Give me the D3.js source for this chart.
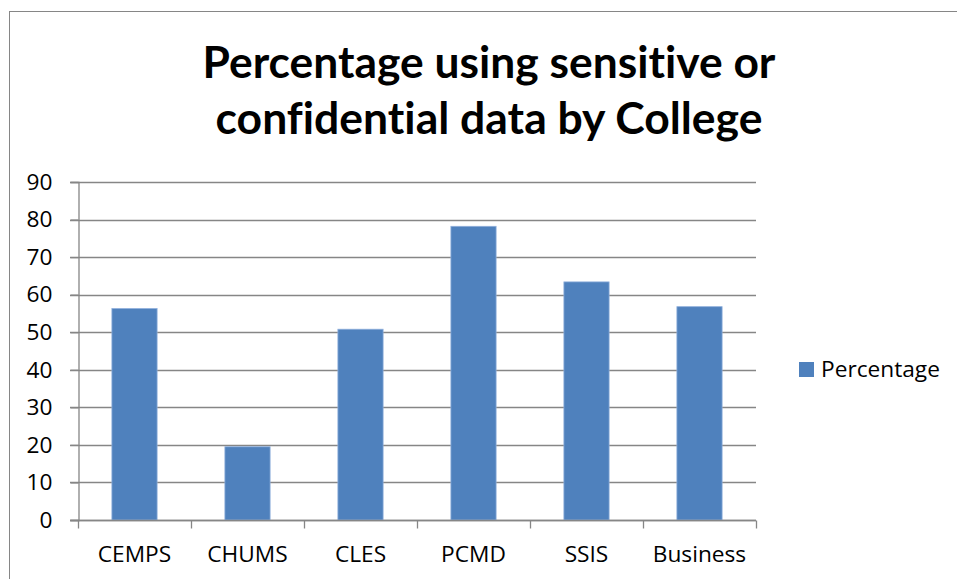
<!DOCTYPE html>
<html>
<head>
<meta charset="utf-8">
<script src="https://cdn.jsdelivr.net/npm/d3@7"></script>
<style>
  html, body { margin: 0; padding: 0; background: #fff; }
  svg { display: block; }
  text { font-family: "Open Sans", Lato, sans-serif; fill: #000; font-variant-ligatures: none; }
  .title { font-family: Lato, "Open Sans", sans-serif; }
</style>
</head>
<body>
<svg id="chart" width="957" height="579"></svg>
<script>
// Share of researchers working with sensitive or confidential data, by college
const colleges = ["CEMPS", "CHUMS", "CLES", "PCMD", "SSIS", "Business"];
const percentages = [56.3, 19.5, 50.8, 78.2, 63.4, 56.8];
const yTicks = [0, 10, 20, 30, 40, 50, 60, 70, 80, 90];
const titleLines = ["Percentage using sensitive or", "confidential data by College"];
const seriesName = "Percentage";

const W = 957, H = 579;
const margin = { top: 182, right: 201, bottom: 59, left: 78 };
const barColor = "#4F81BD";
const gridColor = "#868686";

const svg = d3.select("#chart");

// label size: fit the legend entry to its width, reuse it for the axes
const probe = svg.append("text").attr("font-size", 20).text(seriesName);
const labelSize = 20 * 119 / probe.node().getComputedTextLength();
probe.remove();

// chart frame
svg.append("rect")
  .attr("x", 9.5).attr("y", 11.5)
  .attr("width", W + 20).attr("height", H + 20)
  .attr("fill", "#fff").attr("stroke", gridColor).attr("stroke-width", 1);

const x = d3.scaleBand()
  .domain(colleges)
  .range([margin.left, W - margin.right])
  .paddingInner(0.6)
  .paddingOuter(0.3);

const y = d3.scaleLinear()
  .domain([0, 90])
  .range([H - margin.bottom, margin.top]);

// horizontal gridlines
svg.append("g")
  .selectAll("line")
  .data(yTicks)
  .join("line")
  .attr("x1", margin.left - 8)
  .attr("x2", W - margin.right)
  .attr("y1", d => Math.round(y(d)) + 0.5)
  .attr("y2", d => Math.round(y(d)) + 0.5)
  .attr("stroke", gridColor)
  .attr("stroke-width", 1.3);

// y axis
const yAxis = svg.append("g")
  .attr("transform", `translate(${margin.left + 0.5},0)`)
  .call(d3.axisLeft(y).tickValues(yTicks).tickSize(8).tickPadding(18).tickFormat(d3.format("d")));
yAxis.select(".domain").attr("stroke", gridColor).attr("stroke-width", 1.3);
yAxis.selectAll(".tick line").attr("stroke", gridColor).attr("stroke-width", 1.3);
yAxis.selectAll(".tick text")
  .attr("font-size", labelSize)
  .attr("font-family", "Open Sans")
  .attr("fill", "#000");

// x axis with boundary ticks between categories
const xBottom = Math.round(y(0)) + 0.5;
const step = x.step();
const boundaries = d3.range(colleges.length + 1).map(i => margin.left + i * step);
const xAxis = svg.append("g");
xAxis.selectAll("line.bt")
  .data(boundaries)
  .join("line")
  .attr("class", "bt")
  .attr("x1", d => Math.round(d) + 0.5).attr("x2", d => Math.round(d) + 0.5)
  .attr("y1", xBottom).attr("y2", xBottom + 8)
  .attr("stroke", gridColor).attr("stroke-width", 1.3);
xAxis.selectAll("text")
  .data(colleges)
  .join("text")
  .attr("x", d => x(d) + x.bandwidth() / 2)
  .attr("y", 562)
  .attr("text-anchor", "middle")
  .attr("font-size", labelSize)
  .text(d => d);

// bars
svg.append("g")
  .selectAll("rect")
  .data(colleges.map((c, i) => ({ c, v: percentages[i] })))
  .join("rect")
  .attr("x", d => x(d.c))
  .attr("y", d => y(d.v))
  .attr("width", x.bandwidth())
  .attr("height", d => y(0) - y(d.v))
  .attr("fill", barColor)
  .attr("stroke", "#8eaedb")
  .attr("stroke-width", 0.8);

// redraw the baseline over bar bottoms
svg.append("line")
  .attr("x1", margin.left - 8).attr("x2", W - margin.right)
  .attr("y1", xBottom).attr("y2", xBottom)
  .attr("stroke", gridColor).attr("stroke-width", 1.3);

// title
const title = svg.append("g");
const titleWidths = [573, 547];
titleLines.forEach((t, i) => {
  const txt = title.append("text")
    .attr("class", "title")
    .attr("x", 489)
    .attr("y", 78 + i * 56)
    .attr("text-anchor", "middle")
    .attr("font-weight", "bold")
    .attr("font-size", 42)
    .text(t);
  const w = txt.node().getComputedTextLength();
  txt.attr("font-size", 42 * titleWidths[i] / w);
});

// legend
const legend = svg.append("g");
legend.append("rect")
  .attr("x", 799).attr("y", 362)
  .attr("width", 15).attr("height", 15)
  .attr("fill", barColor);
legend.append("text")
  .attr("x", 821).attr("y", 377)
  .attr("font-size", labelSize)
  .text(seriesName);
</script>
</body>
</html>
